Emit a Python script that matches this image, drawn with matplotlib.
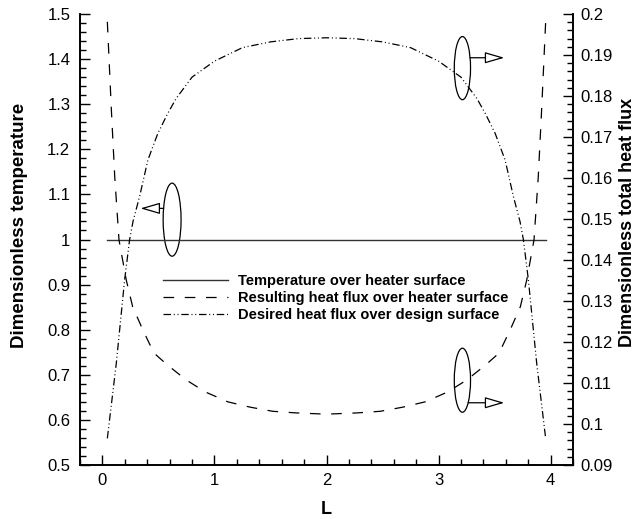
import matplotlib
matplotlib.use("Agg")
import matplotlib.pyplot as plt
from matplotlib.patches import Ellipse
from matplotlib.ticker import MultipleLocator

plt.rcParams['font.family'] = ['Liberation Sans', 'DejaVu Sans']

# temperature over heater surface (left axis)
x_temp = [0.044, 1.0, 2.0, 3.0, 3.956]
temp = [1.0, 1.0, 1.0, 1.0, 1.0]

# resulting heat flux over heater surface (right axis)
x_res = [0.044, 0.08, 0.11, 0.148, 0.213, 0.27, 0.36, 0.46, 0.58, 0.75, 0.92,
         1.12, 1.32, 1.52, 1.73, 2.0, 2.27, 2.48, 2.68, 2.88, 3.08, 3.25,
         3.42, 3.54, 3.64, 3.73, 3.787, 3.852, 3.89, 3.92, 3.956]
flux_res = [0.1981, 0.1766, 0.1603, 0.1449, 0.1351, 0.1286, 0.1230, 0.1173,
            0.1144, 0.1107, 0.1078, 0.1054, 0.1041, 0.1031, 0.1027, 0.1024,
            0.1027, 0.1031, 0.1041, 0.1054, 0.1078, 0.1107, 0.1144, 0.1173,
            0.1230, 0.1286, 0.1351, 0.1449, 0.1603, 0.1766, 0.1981]

# desired heat flux over design surface (right axis)
x_des = [0.044, 0.124, 0.198, 0.243, 0.273, 0.332, 0.406, 0.495, 0.584, 0.658,
         0.8, 1.0, 1.25, 1.5, 1.75, 2.0, 2.25, 2.5, 2.75, 3.0, 3.2, 3.342,
         3.416, 3.505, 3.594, 3.668, 3.727, 3.757, 3.802, 3.876, 3.956]
flux_des = [0.0965, 0.1148, 0.1351, 0.1450, 0.1494, 0.1555, 0.1644, 0.1709,
            0.1758, 0.1794, 0.1846, 0.1885, 0.1918, 0.1932, 0.1940, 0.1942,
            0.1940, 0.1932, 0.1918, 0.1885, 0.1846, 0.1794, 0.1758, 0.1709,
            0.1644, 0.1555, 0.1494, 0.1450, 0.1351, 0.1148, 0.0965]

labels = ["Temperature over heater surface",
          "Resulting heat flux over heater surface",
          "Desired heat flux over design surface"]

W, H = 641, 519
fig = plt.figure(figsize=(W / 100, H / 100), dpi=100)
ax = fig.add_axes([80 / W, 1 - 465 / H, 493 / W, 451 / H])
ax2 = ax.twinx()

l1, = ax.plot(x_temp, temp, color='#333333', lw=1.0)
l2, = ax2.plot(x_res, flux_res, color='black', lw=0.9, dashes=(8.5, 8.5))
l3, = ax2.plot(x_des, flux_des, color='black', lw=0.9,
               dashes=(6, 2.2, 0.8, 2.2, 0.8, 2.2))

ax.set_xlim(-0.2, 4.2)
ax.set_ylim(0.5, 1.5)
ax2.set_ylim(0.09, 0.2)

ax.xaxis.set_major_locator(MultipleLocator(1))
ax.xaxis.set_minor_locator(MultipleLocator(0.2))
ax.yaxis.set_major_locator(MultipleLocator(0.1))
ax.yaxis.set_minor_locator(MultipleLocator(0.02))
ax2.yaxis.set_major_locator(MultipleLocator(0.01))
ax2.yaxis.set_minor_locator(MultipleLocator(0.002))

ax.set_yticklabels([f"{v:g}" for v in ax.get_yticks()])
ax2.set_yticklabels([f"{v:g}" for v in ax2.get_yticks()])

for a in (ax, ax2):
    a.spines['top'].set_visible(False)
    for s in a.spines.values():
        s.set_linewidth(1.2)
ax.tick_params(which='both', direction='in', top=False, right=False, width=1.0)
ax.tick_params(which='major', length=7, labelsize=12)
ax.tick_params(which='minor', length=4)
ax.tick_params(axis='y', pad=7)
ax.tick_params(axis='x', pad=6)
ax2.tick_params(which='both', direction='in', width=1.0)
ax2.tick_params(which='major', length=7, labelsize=12, pad=5)
ax2.tick_params(which='minor', length=4)

# axis titles placed by pixel position
fig.text(326 / W, 1 - 509 / H, "L", fontsize=13, fontweight='bold',
         ha='center', va='center')
fig.text(20 / W, 1 - 225 / H, "Dimensionless temperature", fontsize=13.5,
         fontweight='bold', rotation=90, ha='center', va='center')
fig.text(627 / W, 1 - 222 / H, "Dimensionless total heat flux", fontsize=13,
         fontweight='bold', rotation=90, ha='center', va='center')

leg = ax2.legend([l1, l2, l3], labels, loc='upper left',
                 bbox_to_anchor=(163 / W, 1 - 274 / H), bbox_transform=fig.transFigure,
                 frameon=False, borderpad=0, borderaxespad=0,
                 handlelength=4.46, handletextpad=0.69, labelspacing=0.22,
                 prop={'size': 10.5, 'weight': 'bold'})

# ellipse markers with arrows pointing to the axis each curve belongs to
def mark(cx, cy, w, h, ay, tip_x):
    ax.add_patch(Ellipse((cx, cy), w, h, fill=False, ec='black', lw=0.9))
    # point on the ellipse edge at the arrow height
    t = (ay - cy) / (h / 2)
    dx = (w / 2) * (1 - t * t) ** 0.5
    sx = cx + dx if tip_x > cx else cx - dx
    ax.annotate("", xy=(tip_x, ay), xytext=(sx, ay),
                arrowprops=dict(arrowstyle='-|>,head_length=12,head_width=3.5',
                                mutation_scale=1, fc='white', ec='black',
                                lw=0.9, shrinkA=0, shrinkB=0))

mark(0.622, 1.044, 0.16, 0.162, 1.069, 0.34)
mark(3.213, 1.380, 0.145, 0.140, 1.403, 3.587)
mark(3.213, 0.688, 0.145, 0.142, 0.638, 3.587)

fig.savefig("out.png", dpi=100)
